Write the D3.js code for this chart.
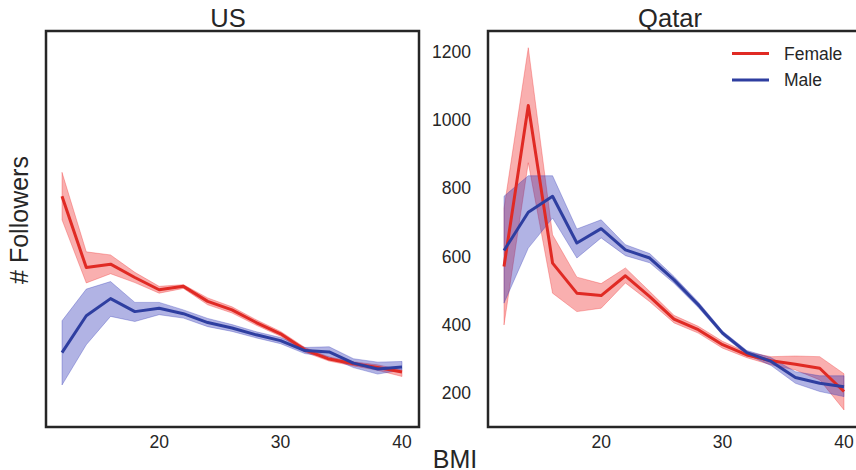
<!DOCTYPE html>
<head>
<script src="https://d3js.org/d3.v7.min.js"></script>
<style>
body { margin: 0; background: #fff; }
svg { font-family: "Liberation Sans", Arial, sans-serif; display: block; }
</style>
</head>
<body>
<svg></svg>
<script>
// BMI bins
var bmi = [12, 14, 16, 18, 20, 22, 24, 26, 28, 30, 32, 34, 36, 38, 40];

// US
var usFemale   = [776, 567, 577, 538, 502, 512, 468, 443, 406, 373, 326, 299, 285, 274, 261];
var usFemaleLo = [707, 522, 549, 523, 492, 506, 458, 434, 398, 366, 319, 293, 279, 266, 248];
var usFemaleHi = [846, 613, 604, 553, 512, 517, 478, 452, 414, 380, 333, 305, 291, 282, 267];
var usMale     = [318, 426, 476, 438, 448, 432, 406, 390, 370, 353, 324, 320, 287, 270, 276];
var usMaleLo   = [223, 341, 424, 409, 429, 419, 394, 380, 361, 344, 315, 305, 274, 255, 267];
var usMaleHi   = [411, 504, 526, 465, 465, 443, 418, 400, 379, 362, 333, 335, 300, 290, 292];

// Qatar
var qaFemale   = [570, 1042, 580, 492, 485, 543, 482, 416, 385, 341, 311, 294, 284, 272, 204];
var qaFemaleLo = [399, 874, 492, 438, 448, 522, 467, 405, 375, 331, 303, 282, 267, 238, 150];
var qaFemaleHi = [740, 1211, 663, 539, 520, 566, 497, 427, 395, 351, 319, 306, 308, 306, 256];
var qaMale     = [617, 729, 776, 639, 681, 619, 595, 531, 458, 375, 318, 292, 245, 228, 218];
var qaMaleLo   = [463, 624, 712, 595, 654, 602, 581, 521, 450, 369, 312, 280, 228, 204, 189];
var qaMaleHi   = [776, 836, 836, 680, 707, 634, 608, 541, 466, 381, 324, 303, 262, 250, 250];

var xTicks = [20, 30, 40];
var yTicks = [200, 400, 600, 800, 1000, 1200];
var sexes = ["Female", "Male"];

var width = 856, height = 470;
var textColor = "#262626";
var colors = {
    Female: { line: "#e02a24", band: "#ee2222" },
    Male:   { line: "#2e3ea0", band: "#282db4" }
};

var panels = [
    { title: "US", x0: 45, showY: false,
      series: { Female: [usFemale, usFemaleLo, usFemaleHi], Male: [usMale, usMaleLo, usMaleHi] } },
    { title: "Qatar", x0: 487, showY: true,
      series: { Female: [qaFemale, qaFemaleLo, qaFemaleHi], Male: [qaMale, qaMaleLo, qaMaleHi] } }
];

var svg = d3.select("svg").attr("width", width).attr("height", height);

var panelW = 374, plotTop = 31, plotBottom = 427;
var y = d3.scaleLinear().domain([100, 1260]).range([plotBottom, plotTop]);

panels.forEach(function (p) {
    var x = d3.scaleLinear().domain([10.6, 41.4]).range([p.x0, p.x0 + panelW]);
    var g = svg.append("g");

    var area = d3.area()
        .x(function (d) { return x(d.x); })
        .y0(function (d) { return y(d.lo); })
        .y1(function (d) { return y(d.hi); });
    var line = d3.line()
        .x(function (d) { return x(d.x); })
        .y(function (d) { return y(d.v); });

    var rows = {};
    sexes.forEach(function (s) {
        var ser = p.series[s];
        rows[s] = bmi.map(function (b, i) { return { x: b, v: ser[0][i], lo: ser[1][i], hi: ser[2][i] }; });
    });

    // bands first, then the mean lines on top
    sexes.forEach(function (s) {
        g.append("path").datum(rows[s])
            .attr("d", area)
            .attr("fill", colors[s].band).attr("fill-opacity", 0.36)
            .attr("stroke", colors[s].band).attr("stroke-opacity", 0.3).attr("stroke-width", 1);
    });
    sexes.forEach(function (s) {
        g.append("path").datum(rows[s])
            .attr("d", line)
            .attr("fill", "none")
            .attr("stroke", colors[s].line).attr("stroke-width", 3)
            .attr("stroke-linejoin", "round");
    });

    // frame
    g.append("rect")
        .attr("x", p.x0 + 1).attr("y", plotTop)
        .attr("width", panelW - 1).attr("height", plotBottom - plotTop)
        .attr("fill", "none").attr("stroke", textColor).attr("stroke-width", 2.5);

    // x tick labels
    g.selectAll(".xt").data(xTicks).enter().append("text")
        .attr("x", function (d) { return x(d); })
        .attr("y", 448)
        .attr("text-anchor", "middle")
        .attr("font-size", 17.5).attr("fill", textColor)
        .text(function (d) { return d; });

    if (p.showY) {
        g.selectAll(".yt").data(yTicks).enter().append("text")
            .attr("x", p.x0 - 16)
            .attr("y", function (d) { return y(d) + 6.3; })
            .attr("text-anchor", "end")
            .attr("font-size", 17.5).attr("fill", textColor)
            .text(function (d) { return d; });
    }

    g.append("text")
        .attr("x", p.x0 + panelW / 2 - 4).attr("y", 26.5)
        .attr("text-anchor", "middle")
        .attr("font-size", 25.5).attr("fill", textColor)
        .text(p.title);
});

// axis labels
svg.append("text")
    .attr("transform", "translate(28,220)rotate(-90)")
    .attr("text-anchor", "middle")
    .attr("font-size", 25).attr("fill", textColor)
    .text("# Followers");

svg.append("text")
    .attr("x", 455).attr("y", 468)
    .attr("text-anchor", "middle")
    .attr("font-size", 25).attr("fill", textColor)
    .text("BMI");

// legend
var leg = svg.append("g").selectAll("g").data(sexes).enter().append("g")
    .attr("transform", function (d, i) { return "translate(732," + (53.5 + i * 26.5) + ")"; });
leg.append("line")
    .attr("x1", 0).attr("x2", 37)
    .attr("stroke", function (d) { return colors[d].line; })
    .attr("stroke-width", 3);
leg.append("text")
    .attr("x", 52).attr("y", 6.3)
    .attr("font-size", 17.5).attr("fill", textColor)
    .text(function (d) { return d; });
</script>
</body>
